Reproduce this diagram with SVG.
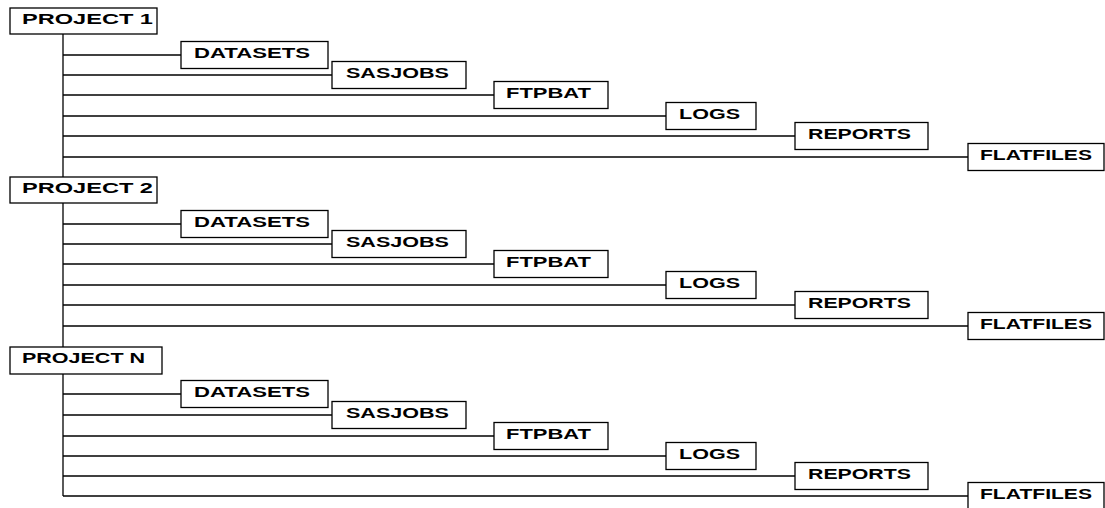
<svg xmlns="http://www.w3.org/2000/svg" width="1105" height="508" viewBox="0 0 1105 508">
<style>
.b{fill:#fff;stroke:#000;stroke-width:1.3}
.t{font-family:"Liberation Sans",Arial,sans-serif;font-weight:bold;font-size:14px;fill:#000}
.c line{stroke:#000;stroke-width:1.3}
</style>
<rect width="1105" height="508" fill="#fff"/>
<g class="c" id="connectors">
<line x1="63" y1="34" x2="63" y2="177"/>
<line x1="63" y1="55" x2="181" y2="55"/>
<line x1="63" y1="75" x2="332" y2="75"/>
<line x1="63" y1="95" x2="494" y2="95"/>
<line x1="63" y1="116" x2="666" y2="116"/>
<line x1="63" y1="136" x2="795" y2="136"/>
<line x1="63" y1="157" x2="968" y2="157"/>
<line x1="63" y1="203" x2="63" y2="347"/>
<line x1="63" y1="224" x2="181" y2="224"/>
<line x1="63" y1="244" x2="332" y2="244"/>
<line x1="63" y1="264" x2="494" y2="264"/>
<line x1="63" y1="285" x2="666" y2="285"/>
<line x1="63" y1="305" x2="795" y2="305"/>
<line x1="63" y1="326" x2="968" y2="326"/>
<line x1="63" y1="374" x2="63" y2="496"/>
<line x1="63" y1="394" x2="181" y2="394"/>
<line x1="63" y1="415" x2="332" y2="415"/>
<line x1="63" y1="436" x2="494" y2="436"/>
<line x1="63" y1="456" x2="666" y2="456"/>
<line x1="63" y1="476" x2="795" y2="476"/>
<line x1="63" y1="496" x2="968" y2="496"/>
</g>
<g id="project1"><rect class="b" x="10" y="8" width="147" height="26"/><text class="t" x="22" y="24" textLength="131" lengthAdjust="spacingAndGlyphs">PROJECT 1</text></g>
<g id="p1-datasets"><rect class="b" x="181" y="41.5" width="147" height="27"/><text class="t" x="194" y="58" textLength="116" lengthAdjust="spacingAndGlyphs">DATASETS</text></g>
<g id="p1-sasjobs"><rect class="b" x="332" y="61.5" width="134" height="27"/><text class="t" x="346" y="78" textLength="103" lengthAdjust="spacingAndGlyphs">SASJOBS</text></g>
<g id="p1-ftpbat"><rect class="b" x="494" y="81.5" width="114" height="27"/><text class="t" x="506" y="98" textLength="85" lengthAdjust="spacingAndGlyphs">FTPBAT</text></g>
<g id="p1-logs"><rect class="b" x="666" y="102.5" width="90" height="27"/><text class="t" x="679" y="119" textLength="61" lengthAdjust="spacingAndGlyphs">LOGS</text></g>
<g id="p1-reports"><rect class="b" x="795" y="122.5" width="133" height="27"/><text class="t" x="808" y="139" textLength="103" lengthAdjust="spacingAndGlyphs">REPORTS</text></g>
<g id="p1-flatfiles"><rect class="b" x="968" y="143.5" width="136" height="27"/><text class="t" x="980" y="160" textLength="112" lengthAdjust="spacingAndGlyphs">FLATFILES</text></g>

<g id="project2"><rect class="b" x="10" y="177" width="147" height="26"/><text class="t" x="22" y="193" textLength="131" lengthAdjust="spacingAndGlyphs">PROJECT 2</text></g>
<g id="p2-datasets"><rect class="b" x="181" y="210.5" width="147" height="27"/><text class="t" x="194" y="227" textLength="116" lengthAdjust="spacingAndGlyphs">DATASETS</text></g>
<g id="p2-sasjobs"><rect class="b" x="332" y="230.5" width="134" height="27"/><text class="t" x="346" y="247" textLength="103" lengthAdjust="spacingAndGlyphs">SASJOBS</text></g>
<g id="p2-ftpbat"><rect class="b" x="494" y="250.5" width="114" height="27"/><text class="t" x="506" y="267" textLength="85" lengthAdjust="spacingAndGlyphs">FTPBAT</text></g>
<g id="p2-logs"><rect class="b" x="666" y="271.5" width="90" height="27"/><text class="t" x="679" y="288" textLength="61" lengthAdjust="spacingAndGlyphs">LOGS</text></g>
<g id="p2-reports"><rect class="b" x="795" y="291.5" width="133" height="27"/><text class="t" x="808" y="308" textLength="103" lengthAdjust="spacingAndGlyphs">REPORTS</text></g>
<g id="p2-flatfiles"><rect class="b" x="968" y="312.5" width="136" height="27"/><text class="t" x="980" y="329" textLength="112" lengthAdjust="spacingAndGlyphs">FLATFILES</text></g>

<g id="projectN"><rect class="b" x="10" y="347" width="152" height="27"/><text class="t" x="22" y="363" textLength="123" lengthAdjust="spacingAndGlyphs">PROJECT N</text></g>
<g id="pN-datasets"><rect class="b" x="181" y="380.5" width="147" height="27"/><text class="t" x="194" y="397" textLength="116" lengthAdjust="spacingAndGlyphs">DATASETS</text></g>
<g id="pN-sasjobs"><rect class="b" x="332" y="401.5" width="134" height="27"/><text class="t" x="346" y="418" textLength="103" lengthAdjust="spacingAndGlyphs">SASJOBS</text></g>
<g id="pN-ftpbat"><rect class="b" x="494" y="422.5" width="114" height="27"/><text class="t" x="506" y="439" textLength="85" lengthAdjust="spacingAndGlyphs">FTPBAT</text></g>
<g id="pN-logs"><rect class="b" x="666" y="442.5" width="90" height="27"/><text class="t" x="679" y="459" textLength="61" lengthAdjust="spacingAndGlyphs">LOGS</text></g>
<g id="pN-reports"><rect class="b" x="795" y="462.5" width="133" height="27"/><text class="t" x="808" y="479" textLength="103" lengthAdjust="spacingAndGlyphs">REPORTS</text></g>
<g id="pN-flatfiles"><rect class="b" x="968" y="482.5" width="136" height="27"/><text class="t" x="980" y="499" textLength="112" lengthAdjust="spacingAndGlyphs">FLATFILES</text></g>
</svg>
